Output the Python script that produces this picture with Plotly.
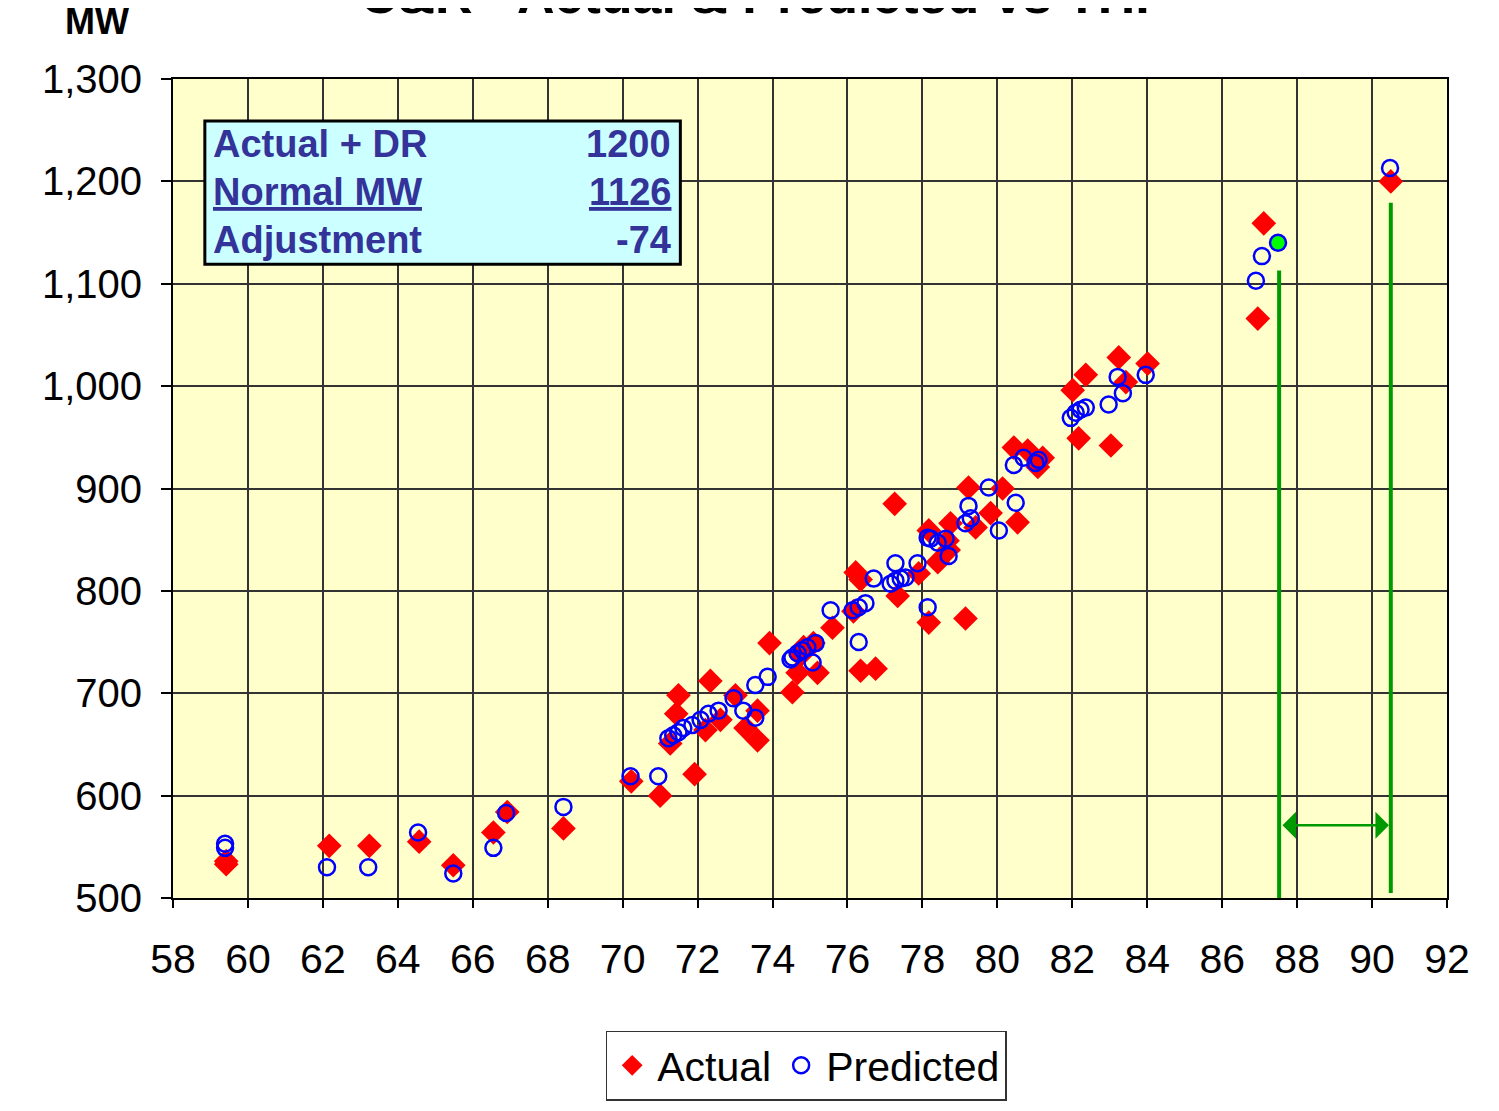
import plotly.graph_objects as go

# ---------------- data ----------------
actual_x = [59.42, 59.42, 62.17, 63.24, 64.57, 65.48, 66.55, 66.92, 68.42, 70.23,
            71.00, 71.92, 71.27, 71.43, 71.49, 72.34, 72.21, 72.61, 73.01, 73.28,
            73.60, 73.60, 73.92, 74.53, 74.67, 75.20, 74.83, 75.09, 74.75, 75.60,
            76.22, 76.35, 76.16, 76.35, 76.75, 77.34, 77.26, 77.90, 78.17, 79.15,
            78.17, 78.67, 78.75, 78.41, 78.70, 79.23, 79.42, 79.82, 80.14, 80.54,
            80.44, 80.81, 81.21, 81.08, 82.01, 82.36, 82.17, 83.03, 83.24, 83.43,
            84.01, 87.11, 86.95, 90.50]
actual_y = [536, 533, 551, 551, 555, 532, 564, 584, 568, 614,
            600, 621, 651, 680, 698, 712, 664, 674, 698, 666,
            654, 683, 749, 701, 720, 720, 745, 749, 737, 764,
            818, 811, 780, 722, 724, 795, 885, 817, 769, 773,
            859, 849, 866, 828, 840, 901, 862, 876, 900, 867,
            940, 937, 930, 921, 996, 1011, 949, 942, 1028, 1004,
            1022, 1159, 1066, 1200]

pred_x = [59.39, 59.39, 62.11, 63.21, 64.54, 65.48, 66.55, 66.89, 68.42, 70.21,
          70.95, 71.22, 71.35, 71.49, 71.62, 71.86, 72.08, 72.29, 72.56, 72.96,
          73.22, 73.54, 73.54, 73.87, 74.53, 74.67, 74.80, 74.93, 75.15, 75.07,
          74.48, 75.55, 76.14, 76.30, 76.48, 76.30, 76.70, 77.15, 77.28, 77.42,
          77.55, 77.28, 77.87, 78.14, 78.14, 78.22, 78.41, 78.62, 78.70, 79.15,
          79.29, 79.23, 79.77, 80.04, 80.49, 80.44, 80.70, 81.02, 81.10, 81.96,
          82.09, 82.22, 82.36, 82.97, 83.35, 83.21, 83.96, 86.90, 87.06, 90.48]
pred_y = [553, 549, 530, 530, 564, 524, 549, 583, 589, 619,
          619, 656, 659, 662, 666, 669, 674, 680, 683, 695,
          683, 676, 708, 716, 735, 739, 742, 745, 749, 730,
          733, 781, 781, 784, 788, 750, 812, 807, 810, 812,
          813, 827, 827, 784, 852, 851, 847, 851, 834, 866,
          871, 883, 901, 859, 886, 923, 930, 925, 928, 969,
          974, 977, 979, 982, 993, 1009, 1011, 1103, 1127, 1213]

highlight_x = [87.49]
highlight_y = [1140]

x_ticks = list(range(58, 93, 2))
y_ticks = list(range(500, 1301, 100))

info_labels = ["Actual + DR", "<u>Normal MW</u>", "Adjustment"]
info_values = ["1200", "<u>1126</u>", "-74"]
info_rows_y = [1237, 1190, 1143]

marker_line1 = {"x": 87.52, "y0": 495, "y1": 1113}
marker_line2 = {"x": 90.50, "y0": 505, "y1": 1179}
arrow_y = 571

title_text = "C&R - Actual & Predicted vs THI"
FONT = "Arial, 'Liberation Sans', sans-serif"
GREEN = "#009900"
NAVY = "#333399"

fig = go.Figure()

fig.add_trace(go.Scatter(
    x=actual_x, y=actual_y, mode="markers", name="Actual",
    marker=dict(symbol="diamond", size=19, color="#FF0000",
                line=dict(width=0)),
))
fig.add_trace(go.Scatter(
    x=pred_x, y=pred_y, mode="markers", name="Predicted",
    marker=dict(symbol="circle-open", size=16, color="#0000FF",
                line=dict(width=2.5, color="#0000FF")),
))
fig.add_trace(go.Scatter(
    x=highlight_x, y=highlight_y, mode="markers", showlegend=False,
    marker=dict(symbol="circle", size=16, color="#00FF00",
                line=dict(width=2.5, color="#0000FF")),
))

shapes = []
for ln in (marker_line1, marker_line2):
    shapes.append(dict(type="line", xref="x", yref="y", x0=ln["x"], x1=ln["x"],
                       y0=ln["y0"], y1=ln["y1"],
                       line=dict(color=GREEN, width=4), layer="above"))
shapes.append(dict(type="rect", xref="x", yref="y", x0=58.85, x1=71.54,
                   y0=1119, y1=1259, fillcolor="#CCFFFF",
                   line=dict(color="black", width=3), layer="above"))
shapes.append(dict(type="line", xref="paper", yref="paper",
                   x0=-0.1335, x1=-0.1335, y0=-0.26, y1=1.1,
                   line=dict(color="#555555", width=1.5)))

annotations = []
for lab, val, yy in zip(info_labels, info_values, info_rows_y):
    annotations.append(dict(x=59.02, y=yy, xref="x", yref="y", text="<b>" + lab + "</b>",
                            showarrow=False, xanchor="left", yanchor="middle",
                            font=dict(family=FONT, size=38, color=NAVY)))
    annotations.append(dict(x=71.35, y=yy, xref="x", yref="y", text="<b>" + val + "</b>",
                            showarrow=False, xanchor="right", yanchor="middle",
                            font=dict(family=FONT, size=38, color=NAVY)))

annotations.append(dict(x=marker_line2["x"] - 0.05, y=arrow_y, ax=marker_line1["x"] + 0.05, ay=arrow_y,
                        xref="x", yref="y", axref="x", ayref="y", text="",
                        showarrow=True, arrowhead=1, startarrowhead=1, arrowside="end+start",
                        arrowsize=1.8, startarrowsize=1.8, arrowwidth=2.5, arrowcolor=GREEN))

annotations.append(dict(x=-0.0597, y=1.0696, xref="paper", yref="paper", text="<b>MW</b>",
                        showarrow=False, xanchor="center", yanchor="middle",
                        font=dict(family=FONT, size=36, color="black")))
annotations.append(dict(x=0.457, y=1.0645, xref="paper", yref="paper",
                        text="<b>" + title_text + "</b>", showarrow=False,
                        xanchor="center", yanchor="bottom",
                        font=dict(family=FONT, size=52, color="black")))

fig.update_layout(
    width=1483, height=1095,
    margin=dict(l=165, r=44, t=71, b=205, autoexpand=False),
    paper_bgcolor="white", plot_bgcolor="#FFFFCC",
    font=dict(family=FONT, size=36, color="black"),
    showlegend=True,
    legend=dict(orientation="h", x=0.497, xanchor="center", y=-0.162, yanchor="top",
                bgcolor="white", bordercolor="#333333", borderwidth=1.5,
                font=dict(family=FONT, size=41, color="black"),
                itemsizing="trace", tracegroupgap=0, itemwidth=40),
    shapes=shapes, annotations=annotations,
)
fig.update_xaxes(range=[58, 92], tickvals=x_ticks, ticktext=[str(v) for v in x_ticks],
                 showgrid=True, gridcolor="#333333", gridwidth=1.5,
                 showline=True, linecolor="black", linewidth=2, mirror=True,
                 ticks="outside", ticklen=8, tickcolor="black", tickwidth=1.5,
                 tickfont=dict(family=FONT, size=41, color="black"),
                 zeroline=False, ticklabelstandoff=16)
fig.update_yaxes(range=[500, 1300], tickvals=y_ticks, tickformat=",d",
                 showgrid=True, gridcolor="#333333", gridwidth=1.5,
                 showline=True, linecolor="black", linewidth=2, mirror=True,
                 ticks="outside", ticklen=10, tickcolor="black", tickwidth=1.5,
                 tickfont=dict(family=FONT, size=40, color="black"),
                 zeroline=False, ticklabelstandoff=11)

fig.write_html("out.html")
